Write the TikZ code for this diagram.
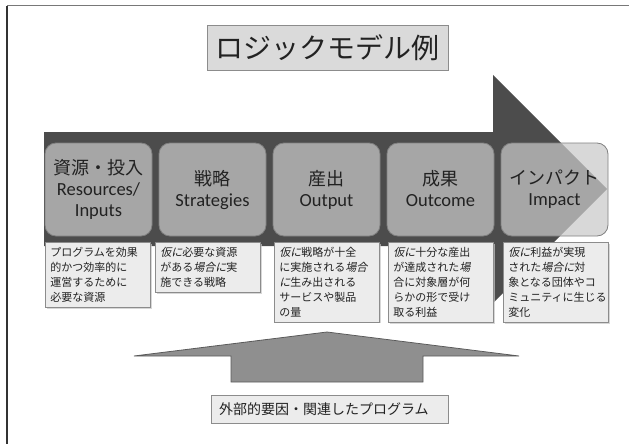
\documentclass[tikz,border=0pt]{standalone}
\usepackage{fontspec}
\setmainfont{Carlito}
\newfontfamily\jp{Noto Sans CJK JP}
\newfontfamily\jpslant[FakeSlant=0.22]{Noto Sans CJK JP}
\newcommand{\itj}[1]{{\jpslant #1}}
\newcommand{\jphead}[1]{{\jp\fontsize{18}{21}\selectfont #1}}
\usetikzlibrary{shadows}
\definecolor{arrowdark}{RGB}{76,76,76}
\definecolor{boxfill}{RGB}{201,201,201}
\definecolor{boxline}{RGB}{128,128,128}
\definecolor{descfill}{RGB}{236,236,236}
\definecolor{descline}{RGB}{140,140,140}
\definecolor{titlefill}{RGB}{218,218,218}
\definecolor{textdark}{RGB}{34,34,34}
\definecolor{uparrow}{RGB}{143,143,143}
\definecolor{uparrowline}{RGB}{90,90,90}
\definecolor{framegray}{RGB}{120,120,120}
\begin{document}
\begin{tikzpicture}[x=1pt,y=-1pt,
  stagebox/.style={draw=boxline, line width=0.8pt, fill=boxfill, fill opacity=0.72, text opacity=1,
    rounded corners=11pt, minimum width=107pt, minimum height=93pt, inner sep=0pt,
    align=center, text=textdark, font=\fontsize{18.5}{21}\selectfont},
  descbox/.style={draw=descline, line width=0.6pt, fill=descfill, anchor=north west,
    text width=95pt, inner xsep=5pt, inner ysep=5pt, align=left, text=textdark,
    font=\jp\fontsize{11}{15}\selectfont,
    drop shadow={shadow xshift=1.2pt, shadow yshift=-1.2pt, fill=gray!45, opacity=0.7}},
  titlebox/.style={draw=descline, line width=0.8pt, fill=titlefill, minimum width=241pt,
    minimum height=45pt, inner sep=0pt, text=textdark, font=\jp\fontsize{28}{30}\selectfont},
  labelbox/.style={draw=descline, line width=0.8pt, fill=descfill, text width=221pt,
    inner xsep=8pt, minimum height=28pt, align=left, text=textdark,
    font=\jp\fontsize{14}{16}\selectfont}]
\useasboundingbox (0,0) rectangle (629,444);
% frame
\draw[framegray, line width=1pt] (7,6) -- (629,6);
\draw[black!80, line width=1.2pt] (7,444) -- (7,6);
% title
\node[titlebox] (title) at (327.5,47.5) {ロジックモデル例};
% main arrow
\fill[arrowdark] (44,132) -- (493,132) -- (493,75) -- (607,189) -- (493,303) -- (493,246) -- (44,246) -- cycle;
% stage boxes
\node[stagebox] (b1) at (98.5,189.5) {\jphead{資源・投入}\\Resources/\\Inputs\vphantom{p}};
\node[stagebox] (b2) at (212.5,189.5) {\jphead{戦略}\\Strategies\vphantom{p}};
\node[stagebox] (b3) at (326.5,189.5) {\jphead{産出}\\Output\vphantom{p}};
\node[stagebox] (b4) at (440.5,189.5) {\jphead{成果}\\Outcome\vphantom{p}};
\node[stagebox] (b5) at (554.5,189.5) {\jphead{インパクト}\\Impact\vphantom{p}};
% description boxes
\node[descbox] (d1) at (45,242) {プログラムを効果\\的かつ効率的に\\運営するために\\必要な資源};
\node[descbox] (d2) at (155,242) {\itj{仮に}必要な資源\\がある\itj{場合に}実\\施できる戦略};
\node[descbox] (d3) at (274,242) {\itj{仮に}戦略が十全\\に実施される\itj{場合}\\\itj{に}生み出される\\サービスや製品\\の量};
\node[descbox] (d4) at (388,242) {\itj{仮に}十分な産出\\が達成された\itj{場}\\合に対象層が何\\らかの形で受け\\取る利益};
\node[descbox] (d5) at (503,242) {\itj{仮に}利益が実現\\された\itj{場合に}対\\象となる団体やコ\\ミュニティに生じる\\変化};
% external factors arrow
\filldraw[fill=uparrow, draw=uparrowline, line width=0.8pt]
  (134,356) -- (327,332) -- (519,356) -- (423,356) -- (423,382) -- (231,382) -- (231,356) -- cycle;
\node[labelbox] (ext) at (329.5,409) {外部的要因・関連したプログラム};
\end{tikzpicture}
\end{document}
